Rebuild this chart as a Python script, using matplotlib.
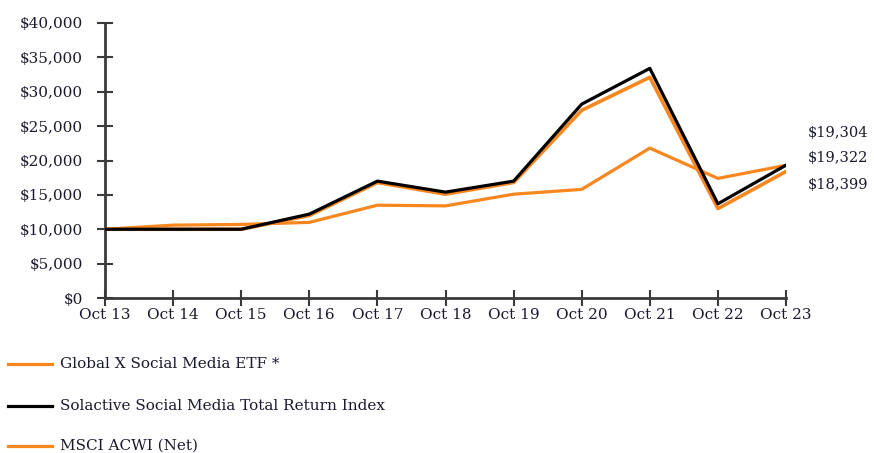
import matplotlib
matplotlib.use("Agg")
import matplotlib.pyplot as plt
from matplotlib.lines import Line2D

categories = ["Oct 13", "Oct 14", "Oct 15", "Oct 16", "Oct 17", "Oct 18",
              "Oct 19", "Oct 20", "Oct 21", "Oct 22", "Oct 23"]
etf = [10000, 10000, 10000, 12000, 16800, 15100, 16800, 27300, 32100, 13000, 18399]
solactive = [10000, 10000, 10000, 12200, 17000, 15400, 17000, 28200, 33400, 13700, 19322]
msci = [10000, 10600, 10700, 11000, 13500, 13400, 15100, 15800, 21800, 17400, 19304]
end_labels = ["$19,304", "$19,322", "$18,399"]
yticks = [0, 5000, 10000, 15000, 20000, 25000, 30000, 35000, 40000]
legend_labels = ["Global X Social Media ETF *", "Solactive Social Media Total Return Index", "MSCI ACWI (Net)"]

orange = "#F7871E"
txt = "#1a1a2e"
plt.rcParams['font.family'] = ['DejaVu Serif']

fig = plt.figure(figsize=(8.74, 4.53), dpi=100)
ax = fig.add_axes([105/874, 1-298/453, (786-105)/874, (298-23)/453])

x = list(range(len(categories)))
ax.plot(x, msci, color=orange, lw=2.3, zorder=2)
ax.plot(x, etf, color=orange, lw=2.6, zorder=3)
ax.plot(x, solactive, color="black", lw=2.3, zorder=4)

ax.set_xlim(0, len(categories)-1)
ax.set_ylim(0, 40000)
ax.set_yticks(yticks)
ax.set_yticklabels([f"${v:,}" for v in yticks])
ax.set_xticks(x)
ax.set_xticklabels(categories)
for s in ["top", "right"]:
    ax.spines[s].set_visible(False)
for s in ["left", "bottom"]:
    ax.spines[s].set_color("#3a3a3a")
    ax.spines[s].set_linewidth(2)
ax.tick_params(axis="both", direction="inout", length=12, width=1.5, color="#3a3a3a",
               labelsize=11, labelcolor=txt)
ax.tick_params(axis="y", pad=10)
ax.tick_params(axis="x", pad=1)

# end labels
for lbl, yp in zip(end_labels, [133, 158, 185]):
    fig.text(808/874, 1-yp/453, lbl, fontsize=10.5, va="center", ha="left", color=txt)

# legend
leg_y = [364, 406, 446]
leg_colors = [orange, "black", orange]
for lbl, yp, c in zip(legend_labels, leg_y, leg_colors):
    fy = 1 - yp/453
    fig.add_artist(Line2D([8/874, 52/874], [fy, fy], color=c, lw=2.3, transform=fig.transFigure))
    fig.text(60/874, fy, lbl, fontsize=11, va="center", ha="left", color=txt)

fig.savefig("out.png", dpi=100)
